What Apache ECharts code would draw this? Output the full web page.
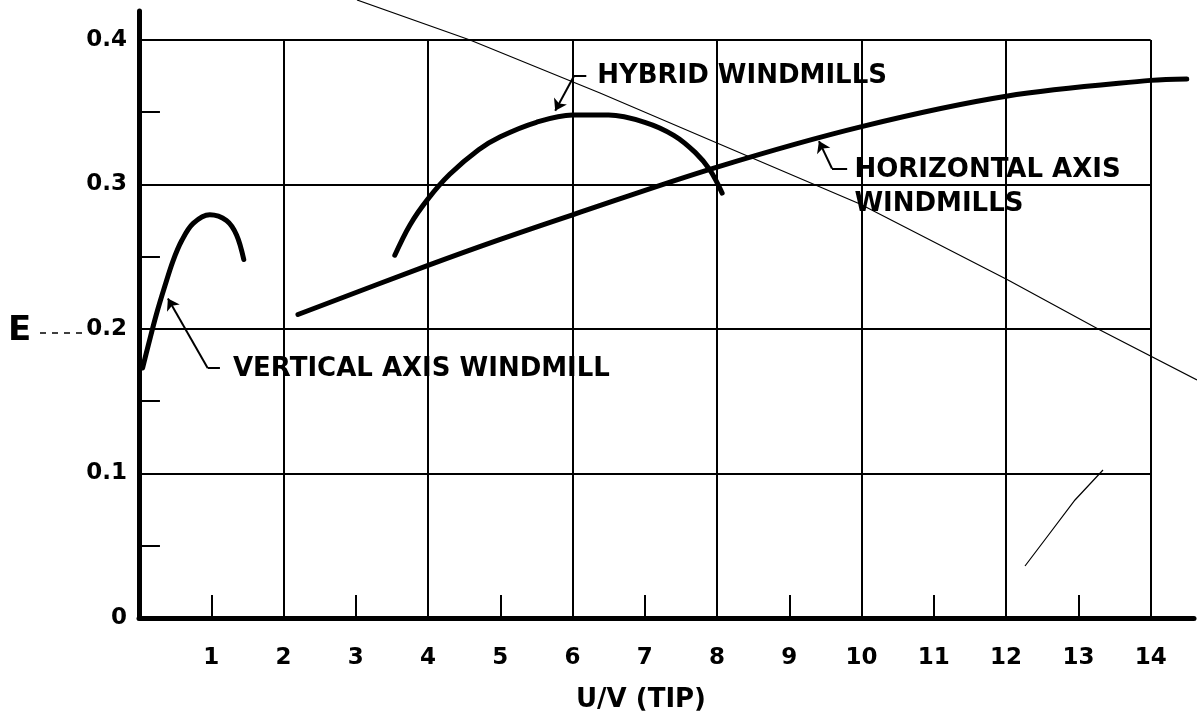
<!doctype html>
<html>
<head>
<meta charset="utf-8">
<title>Windmill efficiency E vs U/V (tip)</title>
<script src="https://cdn.jsdelivr.net/npm/echarts@6/dist/echarts.min.js"></script>
<style>
  html, body { margin: 0; padding: 0; background: #fff; }
  #chart { width: 1197px; height: 718px; }
</style>
</head>
<body>
<div id="chart"></div>
<script>
// curves: x = U/V (tip), y = E
const verticalX = [0.05, 0.13, 0.24, 0.36, 0.47, 0.59, 0.75, 0.98, 1.21, 1.35, 1.45];
const verticalY = [0.173, 0.189, 0.210, 0.230, 0.247, 0.261, 0.273, 0.279, 0.275, 0.265, 0.248];

const hybridX = [3.54, 3.75, 4.0, 4.3, 4.7, 5.0, 5.5, 6.0, 6.5, 7.0, 7.4, 7.7, 7.9, 8.07];
const hybridY = [0.251, 0.272, 0.290, 0.307, 0.324, 0.333, 0.343, 0.348, 0.348, 0.343, 0.334, 0.322, 0.310, 0.294];

const horizontalX = [2.2, 4, 5, 6, 8, 10, 12, 14, 14.5];
const horizontalY = [0.21, 0.244, 0.262, 0.279, 0.312, 0.340, 0.361, 0.372, 0.373];

// grid and tick positions
const gridX = [2, 4, 6, 8, 10, 12, 14];
const gridY = [0.1, 0.2, 0.3, 0.4];
const oddX = [1, 3, 5, 7, 9, 11, 13];
const halfY = [0.05, 0.15, 0.25, 0.35];

// labels on the plot and their leader lines (stub, then arrow to the curve)
const notes = [
    { text: 'HYBRID WINDMILLS', at: [6.34, 0.375] },
    { text: 'HORIZONTAL AXIS', at: [9.90, 0.310] },
    { text: 'WINDMILLS', at: [9.90, 0.286] },
    { text: 'VERTICAL AXIS WINDMILL', at: [1.30, 0.172] }
];
const leaders = [
    [[6.19, 0.375], [6.02, 0.375], [5.76, 0.351]],
    [[9.80, 0.311], [9.59, 0.311], [9.41, 0.330]],
    [[1.12, 0.173], [0.95, 0.173], [0.40, 0.221]]
];

const FONT = '"DejaVu Sans", sans-serif';
const zip = (xs, ys) => xs.map((x, i) => [x, ys[i]]);
const seg = (a, b) => [{ coord: a }, { coord: b }];

const chart = echarts.init(document.getElementById('chart'));

const frameLines = []
    .concat(gridX.map(x => seg([x, 0], [x, 0.4])))
    .concat(gridY.map(y => seg([0, y], [14, y])))
    .concat(oddX.map(x => seg([x, 0], [x, 0.016])))
    .concat(halfY.map(y => seg([0, y], [0.29, y])));

const curve = (name, xs, ys) => ({
    name, type: 'line', smooth: 0.35, symbol: 'none',
    lineStyle: { color: '#000', width: 5, cap: 'round' }, data: zip(xs, ys)
});

chart.setOption({
    animation: false,
    backgroundColor: '#fff',
    grid: { left: 139, right: 1, top: 11, bottom: 100 },
    xAxis: {
        type: 'value', min: 0, max: 14.6, interval: 1,
        axisLine: { lineStyle: { color: '#000', width: 5 } },
        axisTick: { show: false },
        splitLine: { show: false },
        axisLabel: {
            margin: 29, color: '#000', fontFamily: FONT, fontWeight: 'bold', fontSize: 23,
            formatter: v => (v === 0 || v > 14) ? '' : String(v)
        }
    },
    yAxis: {
        type: 'value', min: 0, max: 0.42, interval: 0.1,
        axisLine: { lineStyle: { color: '#000', width: 5 } },
        axisTick: { show: false },
        splitLine: { show: false },
        axisLabel: {
            margin: 12, color: '#000', fontFamily: FONT, fontWeight: 'bold', fontSize: 23,
            formatter: v => v > 0.4 ? '' : (v === 0 ? '0' : v.toFixed(1))
        }
    },
    series: [
        {
            type: 'line', data: [], silent: true,
            markLine: {
                silent: true, symbol: ['none', 'none'], label: { show: false },
                lineStyle: { color: '#000', width: 2, type: 'solid' },
                emphasis: { disabled: true },
                data: frameLines
            }
        },
        {
            type: 'line', data: [], silent: true,
            markLine: {
                silent: true, symbol: ['none', 'none'], label: { show: false },
                lineStyle: { color: '#000', width: 2, type: 'solid' },
                emphasis: { disabled: true },
                data: leaders.map(p => seg(p[0], p[1]))
            }
        },
        {
            type: 'line', data: [], silent: true,
            markLine: {
                silent: true, symbol: ['none', 'arrow'], symbolSize: 11, label: { show: false },
                lineStyle: { color: '#000', width: 2, type: 'solid' },
                emphasis: { disabled: true },
                data: leaders.map(p => seg(p[1], p[2]))
            }
        },
        curve('Vertical axis windmill', verticalX, verticalY),
        curve('Hybrid windmills', hybridX, hybridY),
        curve('Horizontal axis windmills', horizontalX, horizontalY)
    ]
});

// texts placed from data coordinates
const texts = notes.map(n => {
    const p = chart.convertToPixel({ gridIndex: 0 }, n.at);
    return {
        type: 'text', x: p[0], y: p[1], silent: true,
        style: { text: n.text, fill: '#000', font: 'bold 26px ' + FONT, verticalAlign: 'middle' }
    };
});

chart.setOption({
    graphic: texts.concat([
        {
            type: 'text', x: 641, y: 700, silent: true,
            style: { text: 'U/V (TIP)', fill: '#000', font: 'bold 26px ' + FONT, align: 'center', verticalAlign: 'middle' }
        },
        {
            type: 'text', x: 8, y: 331, silent: true,
            style: { text: 'E', fill: '#000', font: 'bold 34px ' + FONT, verticalAlign: 'middle' }
        },
        {
            type: 'line', silent: true,
            shape: { x1: 40, y1: 333, x2: 84, y2: 333 },
            style: { stroke: '#000', lineWidth: 1.5, lineDash: [6, 6] }
        },
        {
            // thin stray lines from the scanned original
            type: 'polyline', silent: true,
            shape: { points: [[357, 0], [470, 40], [600, 93], [717, 143], [860, 204], [1008, 280], [1100, 330], [1197, 380]] },
            style: { stroke: '#000', lineWidth: 1.2, fill: null }
        },
        {
            type: 'polyline', silent: true,
            shape: { points: [[1025, 566], [1050, 533], [1075, 500], [1103, 470]] },
            style: { stroke: '#000', lineWidth: 1.2, fill: null }
        }
    ])
});
</script>
</body>
</html>
